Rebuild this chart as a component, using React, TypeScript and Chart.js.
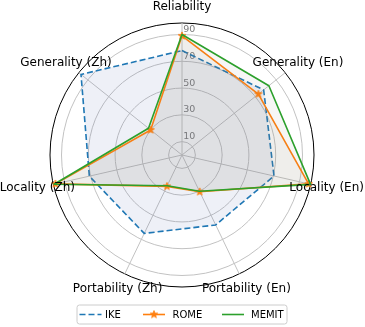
import React, { useEffect, useRef } from 'react';
import { Chart, registerables } from 'chart.js';

Chart.register(...registerables);

// ---------- data ----------
const categories = [
  'Reliability',
  'Generality (En)',
  'Locality (En)',
  'Portability (En)',
  'Portability (Zh)',
  'Locality (Zh)',
  'Generality (Zh)',
];
const seriesNames = ['IKE', 'ROME', 'MEMIT'];
const ikeValues = [78, 78, 70.5, 58, 65, 71, 96.5];
const romeValues = [89, 73, 97, 30.5, 26, 97, 30];
const memitValues = [90, 83, 98.5, 30, 25.5, 98, 32];
const tickValues = [10, 30, 50, 70, 90];
const rMax = 98.6;

// ---------- styling ----------
const W = 365;
const H = 327;
const BLUE = '#1f77b4';
const ORANGE = '#ff7f0e';
const GREEN = '#2ca02c';
const FONT = '"DejaVu Sans", sans-serif';
const GRID = '#c2c2c2';

function makeStar(color: string, outer: number) {
  const size = Math.ceil(outer * 2 + 2);
  const c = document.createElement('canvas');
  c.width = size;
  c.height = size;
  const ctx = c.getContext('2d')!;
  const cx = size / 2;
  const cy = size / 2;
  const inner = outer * 0.42;
  ctx.beginPath();
  for (let i = 0; i < 10; i++) {
    const r = i % 2 === 0 ? outer : inner;
    const a = -Math.PI / 2 + (i * Math.PI) / 5;
    const x = cx + r * Math.cos(a);
    const y = cy + r * Math.sin(a);
    if (i === 0) ctx.moveTo(x, y);
    else ctx.lineTo(x, y);
  }
  ctx.closePath();
  ctx.fillStyle = color;
  ctx.fill();
  ctx.lineWidth = 0.8;
  ctx.strokeStyle = color;
  ctx.stroke();
  return c;
}

const tickLabelPlugin = {
  id: 'tickLabelPlugin',
  beforeDatasetsDraw(chart: any) {
    const scale = chart.scales.r;
    const ctx = chart.ctx;
    ctx.save();
    ctx.font = `9.5px ${FONT}`;
    ctx.fillStyle = '#7a7a7a';
    ctx.textAlign = 'left';
    ctx.textBaseline = 'alphabetic';
    tickValues.forEach((v) => {
      const d = scale.getDistanceFromCenterForValue(v);
      ctx.fillText(String(v), scale.xCenter + 1.2, scale.yCenter - d - 2.5);
    });
    ctx.restore();
  },
};

const pointLabelPlugin = {
  id: 'pointLabelPlugin',
  afterDraw(chart: any) {
    const scale = chart.scales.r;
    const ctx = chart.ctx;
    ctx.save();
    ctx.font = `12px ${FONT}`;
    ctx.fillStyle = '#000';
    ctx.textAlign = 'center';
    ctx.textBaseline = 'middle';
    categories.forEach((label, i) => {
      const p = scale.getPointPosition(i, scale.drawingArea * 1.124);
      ctx.fillText(label, p.x, p.y);
    });
    ctx.restore();
  },
};

function makeLegendPlugin(star: HTMLCanvasElement) {
  return {
    id: 'customLegend',
    afterDraw(chart: any) {
      const ctx = chart.ctx;
      ctx.save();
      const x0 = 77, y0 = 305, x1 = 287, y1 = 324, rr = 2.5;
      ctx.beginPath();
      ctx.moveTo(x0 + rr, y0);
      ctx.lineTo(x1 - rr, y0);
      ctx.arcTo(x1, y0, x1, y0 + rr, rr);
      ctx.lineTo(x1, y1 - rr);
      ctx.arcTo(x1, y1, x1 - rr, y1, rr);
      ctx.lineTo(x0 + rr, y1);
      ctx.arcTo(x0, y1, x0, y1 - rr, rr);
      ctx.lineTo(x0, y0 + rr);
      ctx.arcTo(x0, y0, x0 + rr, y0, rr);
      ctx.closePath();
      ctx.fillStyle = 'rgba(255,255,255,0.8)';
      ctx.fill();
      ctx.strokeStyle = '#cccccc';
      ctx.lineWidth = 1;
      ctx.stroke();

      const ly = 314.5;
      const items = [
        { name: seriesNames[0], color: BLUE, dash: [6, 3], hx: 79.5, tx: 105, star: false },
        { name: seriesNames[1], color: ORANGE, dash: [], hx: 143, tx: 172.5, star: true },
        { name: seriesNames[2], color: GREEN, dash: [], hx: 222, tx: 251, star: false },
      ];
      items.forEach((it) => {
        ctx.beginPath();
        ctx.setLineDash(it.dash);
        ctx.strokeStyle = it.color;
        ctx.lineWidth = 1.6;
        ctx.moveTo(it.hx, ly);
        ctx.lineTo(it.hx + 22, ly);
        ctx.stroke();
        ctx.setLineDash([]);
        if (it.star) {
          ctx.drawImage(star, it.hx + 11 - star.width / 2, ly - star.height / 2);
        }
        ctx.font = `10px ${FONT}`;
        ctx.fillStyle = '#000';
        ctx.textAlign = 'left';
        ctx.textBaseline = 'alphabetic';
        ctx.fillText(it.name, it.tx, 318);
      });
      ctx.restore();
    },
  };
}

export default function App() {
  const ref = useRef<HTMLCanvasElement>(null);

  useEffect(() => {
    if (!ref.current) return;
    const star = makeStar(ORANGE, 4);
    const chart = new Chart(ref.current, {
      type: 'radar',
      data: {
        labels: categories,
        datasets: [
          {
            label: seriesNames[0],
            data: ikeValues,
            borderColor: BLUE,
            borderWidth: 1.6,
            borderDash: [6, 3],
            borderJoinStyle: 'round',
            backgroundColor: 'rgba(70,90,170,0.09)',
            fill: true,
            pointRadius: 0,
            order: 2,
          },
          {
            label: seriesNames[1],
            data: romeValues,
            borderColor: ORANGE,
            borderWidth: 1.6,
            borderJoinStyle: 'round',
            backgroundColor: 'rgba(140,122,105,0.07)',
            fill: true,
            pointStyle: star,
            pointRadius: 4,
            pointBackgroundColor: ORANGE,
            pointBorderColor: ORANGE,
            order: 1,
          },
          {
            label: seriesNames[2],
            data: memitValues,
            borderColor: GREEN,
            borderWidth: 1.6,
            borderJoinStyle: 'round',
            backgroundColor: 'rgba(130,125,120,0.07)',
            fill: true,
            pointRadius: 0,
            order: 0,
          },
        ],
      },
      options: {
        animation: false,
        responsive: false,
        layout: { padding: { left: 50, right: 51, top: 23, bottom: 40 } },
        plugins: {
          legend: { display: false },
          tooltip: { enabled: false },
        },
        elements: { line: { tension: 0 } },
        scales: {
          r: {
            min: 0,
            max: rMax,
            afterBuildTicks: (scale: any) => {
              scale.ticks = [0, ...tickValues, rMax].map((v) => ({ value: v }));
            },
            ticks: { display: false },
            grid: {
              circular: true,
              color: (c: any) => (c.tick && c.tick.value === rMax ? '#000' : GRID),
              lineWidth: 1,
            },
            angleLines: { color: GRID, lineWidth: 1 },
            pointLabels: { display: false },
          },
        },
      } as any,
      plugins: [tickLabelPlugin, pointLabelPlugin, makeLegendPlugin(star)],
    } as any);
    return () => chart.destroy();
  }, []);

  return (
    <div style={{ position: 'absolute', left: 0, top: 0, width: W, height: H, background: '#fff' }}>
      <canvas ref={ref} width={W} height={H} style={{ display: 'block', width: W, height: H }} />
    </div>
  );
}
